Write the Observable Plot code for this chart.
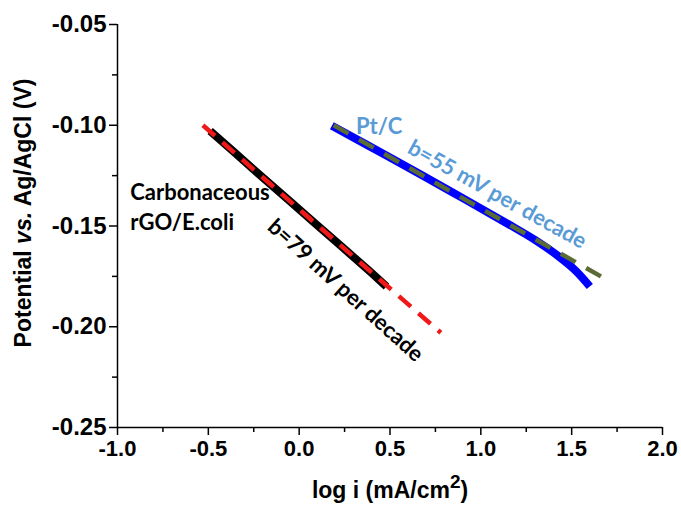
<!DOCTYPE html>
<html>
<head>
<meta charset="utf-8">
<script src="https://cdn.jsdelivr.net/npm/d3@7"></script>
<script src="https://cdn.jsdelivr.net/npm/@observablehq/plot@0.6"></script>
<style>
  html, body { margin: 0; padding: 0; background: #fff; }
</style>
</head>
<body>
<div id="chart"></div>
<script>
// Carbonaceous rGO/E.coli Tafel data (black) and fit (red dashed)
const rgoX = [-0.49, -0.36, -0.21, -0.06, 0.09, 0.24, 0.39, 0.48];
const rgoY = [-0.1028, -0.1132, -0.1252, -0.1370, -0.1489, -0.1607, -0.1726, -0.1800];
const rgoFitX = [-0.53, 0.78];
const rgoFitY = [-0.100, -0.203];

// Pt/C Tafel data (blue) and fit (olive dashed)
const ptX = [0.18, 0.48, 0.85, 1.15, 1.30, 1.42, 1.52, 1.60];
const ptY = [-0.1003, -0.1150, -0.1336, -0.1490, -0.1570, -0.1645, -0.1720, -0.1800];
const ptFitX = [0.19, 1.70];
const ptFitY = [-0.100, -0.177];

// Axes
const xMajor = [-1.0, -0.5, 0.0, 0.5, 1.0, 1.5, 2.0];
const xMinor = [-0.75, -0.25, 0.25, 0.75, 1.25, 1.75];
const yMajor = [-0.25, -0.20, -0.15, -0.10, -0.05];
const yMinor = [-0.225, -0.175, -0.125, -0.075];
const xTitle = "log i (mA/cm2)";
const yTitle = "Potential vs. Ag/AgCl (V)";

// Annotations
const annoText = ["Carbonaceous", "rGO/E.coli", "b=79 mV per decade", "Pt/C", "b=55 mV per decade"];
const annoX = [-0.93, -0.93, 0.255, 0.44, 1.09];
const annoY = [-0.1335, -0.1485, -0.182, -0.1006, -0.1344];

const rgo = rgoX.map((x, i) => ({x, y: rgoY[i]}));
const rgoFit = rgoFitX.map((x, i) => ({x, y: rgoFitY[i]}));
const pt = ptX.map((x, i) => ({x, y: ptY[i]}));
const ptFit = ptFitX.map((x, i) => ({x, y: ptFitY[i]}));
const anno = annoText.map((t, i) => ({t, x: annoX[i], y: annoY[i]}));

const fam = "Liberation Sans, Arial, sans-serif";
const annoFont = {fontSize: 22, fontWeight: "bold", fontFamily: "Lato, 'Open Sans', sans-serif"};

const svg = Plot.plot({
  width: 681,
  height: 506,
  marginLeft: 117,
  marginRight: 19,
  marginTop: 24,
  marginBottom: 79,
  x: {domain: [-1, 2]},
  y: {domain: [-0.25, -0.05]},
  style: {background: "#fff", color: "#000"},
  marks: [
    Plot.axisX({ticks: xMajor, tickSize: 8, tickPadding: 5, tickFormat: d => d.toFixed(1), label: null, strokeWidth: 1.5, fontSize: 22, fontWeight: "bold", fontFamily: fam}),
    Plot.axisX({ticks: xMinor, tickSize: 5, tickFormat: () => "", label: null, strokeWidth: 1.5}),
    Plot.axisY({ticks: yMajor, tickSize: 8, tickPadding: 3, tickFormat: d => d.toFixed(2), label: null, strokeWidth: 1.5, fontSize: 24, fontWeight: "bold", fontFamily: fam}),
    Plot.axisY({ticks: yMinor, tickSize: 5, tickFormat: () => "", label: null, strokeWidth: 1.5}),
    Plot.ruleX([-1], {strokeWidth: 1.5}),
    Plot.ruleY([-0.25], {strokeWidth: 1.5}),
    Plot.line(rgo, {x: "x", y: "y", stroke: "#000", strokeWidth: 8, strokeLinecap: "butt"}),
    Plot.line(rgoFit, {x: "x", y: "y", stroke: "#f01818", strokeWidth: 4.5, strokeDasharray: "16,10", strokeLinecap: "butt"}),
    Plot.line(pt, {x: "x", y: "y", stroke: "#0000ff", strokeWidth: 8, strokeLinecap: "butt", curve: "catmull-rom"}),
    Plot.line(ptFit, {x: "x", y: "y", stroke: "#5a6b35", strokeWidth: 4.5, strokeDasharray: "17,12", strokeLinecap: "butt"}),
    Plot.text(anno.slice(0, 2), {x: "x", y: "y", text: "t", textAnchor: "start", fill: "#000", ...annoFont}),
    Plot.text(anno.slice(2, 3), {x: "x", y: "y", text: "t", rotate: 42, fill: "#000", ...annoFont}),
    Plot.text(anno.slice(3, 5), {x: "x", y: "y", text: "t", rotate: d => d.t === "Pt/C" ? 0 : 29, fill: "#5b9bd5", ...annoFont}),
    Plot.text([yTitle], {frameAnchor: "left", textAnchor: "middle", lineAnchor: "middle", dx: -94, dy: -13, rotate: -90, fontSize: 23, fontWeight: "bold", fontFamily: fam}),
    Plot.text([xTitle], {frameAnchor: "bottom", textAnchor: "middle", lineAnchor: "middle", dy: 63, fontSize: 23, fontWeight: "bold", fontFamily: fam})
  ]
});

// Rich formatting for the axis titles
d3.select(svg).selectAll("text").each(function () {
  const t = d3.select(this);
  const s = this.textContent;
  if (s === yTitle) {
    t.text(null);
    t.append("tspan").text("Potential ");
    t.append("tspan").attr("font-style", "italic").text("vs.");
    t.append("tspan").text(" Ag/AgCl (V)");
  } else if (s === xTitle) {
    t.text(null);
    t.append("tspan").text("log i (mA/cm");
    t.append("tspan").attr("font-size", 19).attr("dy", -10).text("2");
    t.append("tspan").attr("dy", 10).text(")");
  }
});

document.getElementById("chart").appendChild(svg);
</script>
</body>
</html>
